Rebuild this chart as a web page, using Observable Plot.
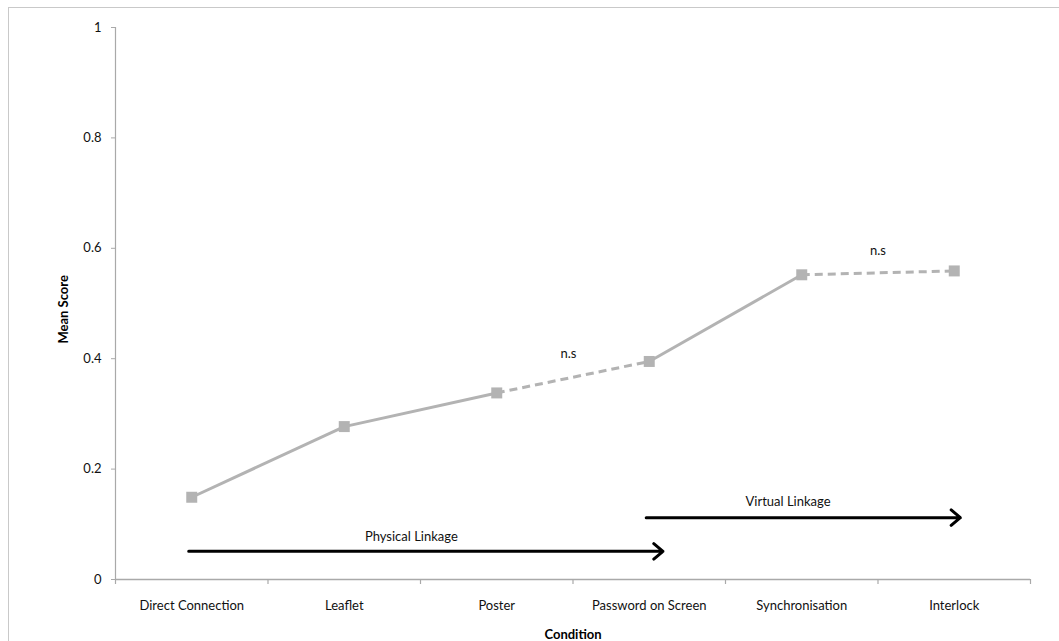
<!DOCTYPE html>
<html>
<head>
<meta charset="utf-8">
<script src="https://cdn.jsdelivr.net/npm/d3@7"></script>
<script src="https://cdn.jsdelivr.net/npm/@observablehq/plot@0.6"></script>
<style>
  html, body { margin: 0; padding: 0; background: #fff; }
  #wrap { position: relative; width: 1059px; height: 641px; overflow: hidden; }
  #frame { position: absolute; left: 8px; top: 7px; width: 1200px; height: 800px; border: 1px solid #c9c9c9; }
  #chart { position: absolute; left: 0; top: 0; }
</style>
</head>
<body>
<div id="wrap"><div id="frame"></div><div id="chart"></div></div>
<script>
const categories = ["Direct Connection", "Leaflet", "Poster", "Password on Screen", "Synchronisation", "Interlock"];
const meanScores = [0.149, 0.277, 0.338, 0.395, 0.552, 0.559];
const segmentStyles = ["solid", "solid", "dashed", "solid", "dashed"];
const yTicks = [0, 0.2, 0.4, 0.6, 0.8, 1];
const linkages = [
  {label: "Physical Linkage", from: -0.02, to: 3.09, y: 0.051, labelX: 1.44, labelY: 0.078},
  {label: "Virtual Linkage", from: 2.98, to: 5.04, y: 0.112, labelX: 3.91, labelY: 0.141}
];
const notes = [
  {label: "n.s", x: 2.47, y: 0.408},
  {label: "n.s", x: 4.5, y: 0.596}
];

const points = categories.map((c, i) => ({i, c, v: meanScores[i]}));
const segments = segmentStyles.map((s, i) => ({x1: i, y1: meanScores[i], x2: i + 1, y2: meanScores[i + 1], style: s}));
const boundaries = d3.range(categories.length + 1).map(i => i - 0.5);

const gray = "#b3b3b3";
const axisGray = "#a9a9a9";

const plot = Plot.plot({
  width: 1059,
  height: 641,
  marginLeft: 115,
  marginRight: 29,
  marginTop: 27,
  marginBottom: 62,
  style: {fontFamily: "Lato, 'Open Sans', sans-serif", fontSize: "13px", color: "#111", background: "transparent"},
  x: {type: "linear", domain: [-0.5, categories.length - 0.5]},
  y: {domain: [0, 1]},
  marks: [
    Plot.ruleX([-0.5], {stroke: axisGray, strokeWidth: 1.2}),
    Plot.ruleY([0], {stroke: axisGray, strokeWidth: 1.5}),
    Plot.axisY({ticks: yTicks, tickSize: 4, tickPadding: 10, stroke: axisGray, strokeOpacity: 1, fill: "#111", label: null,
      tickFormat: d => d === 0 ? "0" : d === 1 ? "1" : d.toFixed(1)}),
    Plot.axisX({ticks: boundaries, tickSize: 5, tickPadding: 0, stroke: axisGray, strokeOpacity: 1, strokeWidth: 1.2, label: null,
      tickFormat: () => ""}),
    Plot.axisX({ticks: d3.range(categories.length), tickSize: 0, tickPadding: 21, label: null, fill: "#111",
      tickFormat: i => categories[i]}),
    Plot.link(segments.filter(d => d.style === "solid"), {x1: "x1", y1: "y1", x2: "x2", y2: "y2", stroke: gray, strokeWidth: 3}),
    Plot.link(segments.filter(d => d.style === "dashed"), {x1: "x1", y1: "y1", x2: "x2", y2: "y2", stroke: gray, strokeWidth: 3, strokeDasharray: "8,5"}),
    Plot.dot(points, {x: "i", y: "v", symbol: "square", r: 6.2, fill: gray, stroke: "none"}),
    Plot.arrow(linkages, {x1: "from", x2: "to", y1: "y", y2: "y", stroke: "#000", strokeWidth: 3, headLength: 6, headAngle: 80}),
    Plot.text(linkages, {x: "labelX", y: "labelY", text: "label", fill: "#111"}),
    Plot.text(notes, {x: "x", y: "y", text: "label", fill: "#111"}),
    Plot.text(["Mean Score"], {frameAnchor: "left", rotate: -90, dx: -52, dy: 40, fontWeight: "bold", fill: "#000"}),
    Plot.text(["Condition"], {frameAnchor: "bottom", dy: 59, fontWeight: "bold", fill: "#000"})
  ]
});
document.getElementById("chart").appendChild(plot);
</script>
</body>
</html>
